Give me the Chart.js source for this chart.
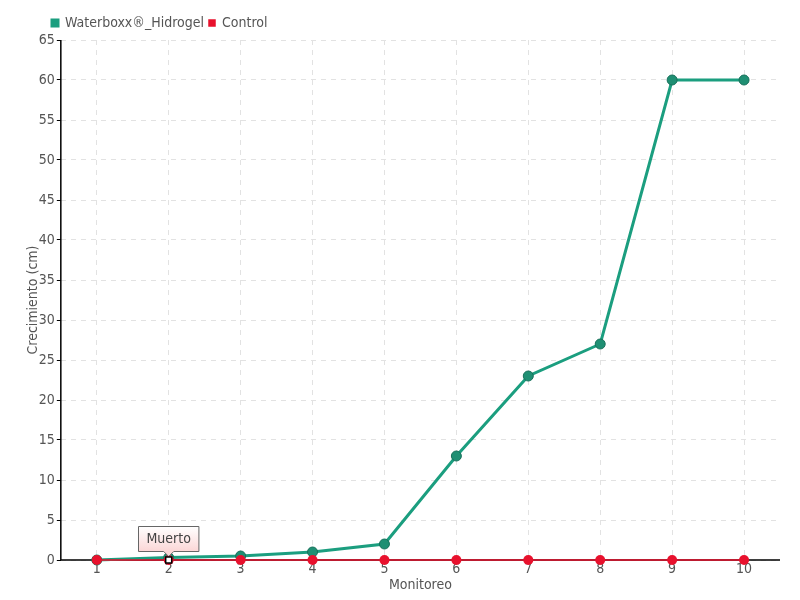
<!DOCTYPE html>
<html>
<head>
<meta charset="utf-8">
<script src="https://cdn.jsdelivr.net/npm/chart.js@4/dist/chart.umd.min.js"></script>
<style>
  html, body { margin: 0; padding: 0; background: #fff; }
  #wrap { width: 800px; height: 600px; }
</style>
</head>
<body>
<div id="wrap"><canvas id="grafico" width="800" height="600"></canvas></div>
<script>
// datos
var monitoreos = ['1', '2', '3', '4', '5', '6', '7', '8', '9', '10'];
var waterboxx = [0, 0.3, 0.5, 1, 2, 13, 23, 27, 60, 60];
var control = [0, 0, 0, 0, 0, 0, 0, 0, 0, 0];
var notasControl = ['', 'Muerto', '', '', '', '', '', '', '', ''];
var yTicks = [0, 5, 10, 15, 20, 25, 30, 35, 40, 45, 50, 55, 60, 65];

var fuente = "'DejaVu Sans Condensed', 'Liberation Sans Narrow', sans-serif";
var gris = '#555';

var notasPlugin = {
    id: 'notas',
    afterLayout: function(chart) {
        // mover la leyenda hacia la derecha (como en el original)
        chart.legend.left += 30;
        chart.legend.right += 30;
    },
    beforeDatasetsDraw: function(chart) {
        // ejes sólidos, debajo de las series
        var a = chart.chartArea, c = chart.ctx;
        c.save();
        c.strokeStyle = '#000';
        c.lineWidth = 1.5;
        c.beginPath();
        c.moveTo(a.left, a.top);
        c.lineTo(a.left, a.bottom);
        c.lineTo(a.right, a.bottom);
        c.stroke();
        c.restore();
    },
    afterDatasetsDraw: function(chart) {
        // etiqueta tipo "tooltip" sobre los puntos con nota
        var ctx = chart.ctx;
        var xs = chart.scales.x, ys = chart.scales.y;
        notasControl.forEach(function(txt, i) {
            if (!txt) return;
            var px = xs.getPixelForValue(i);
            var py = ys.getPixelForValue(control[i]);
            ctx.save();
            ctx.font = '14px ' + fuente;
            var w = ctx.measureText(txt).width + 16;
            var h = 25;
            var bx = Math.round(px - w / 2) + 0.5;
            var by = Math.round(py - 34) + 0.5;
            var g = ctx.createLinearGradient(0, by, 0, by + h);
            g.addColorStop(0, '#ffffff');
            g.addColorStop(1, '#fbd6d6');
            ctx.beginPath();
            ctx.moveTo(bx, by);
            ctx.lineTo(bx + w, by);
            ctx.lineTo(bx + w, by + h);
            ctx.lineTo(px + 5, by + h);
            ctx.lineTo(px, by + h + 5);
            ctx.lineTo(px - 5, by + h);
            ctx.lineTo(bx, by + h);
            ctx.closePath();
            ctx.fillStyle = g;
            ctx.fill();
            ctx.strokeStyle = '#666';
            ctx.lineWidth = 1;
            ctx.stroke();
            ctx.fillStyle = '#444';
            ctx.textAlign = 'center';
            ctx.textBaseline = 'middle';
            ctx.fillText(txt, px, by + h / 2);
            // marcador
            ctx.fillStyle = '#fff';
            ctx.strokeStyle = '#000';
            ctx.lineWidth = 1.5;
            ctx.fillRect(px - 3, py - 3, 6, 6);
            ctx.strokeRect(px - 3, py - 3, 6, 6);
            ctx.restore();
        });
    }
};

var ctx = document.getElementById('grafico').getContext('2d');
new Chart(ctx, {
    type: 'line',
    data: {
        labels: monitoreos,
        datasets: [{
            label: 'Waterboxx®_Hidrogel',
            data: waterboxx,
            borderColor: '#1b9e7f',
            backgroundColor: '#1b9e7f',
            borderWidth: 3,
            pointRadius: 5,
            pointBackgroundColor: '#1f8f73',
            pointBorderColor: '#17705a',
            pointBorderWidth: 1,
            tension: 0,
            clip: 8,
            order: 1
        }, {
            label: 'Control',
            data: control,
            borderColor: '#e8112d',
            backgroundColor: '#e8112d',
            borderWidth: 1.5,
            pointRadius: 5,
            pointBackgroundColor: '#e8112d',
            pointBorderColor: '#e8112d',
            pointBorderWidth: 0,
            tension: 0,
            clip: 8,
            order: 0
        }]
    },
    options: {
        responsive: false,
        animation: false,
        layout: { padding: { left: 17, right: 20, top: 11, bottom: 8 } },
        plugins: {
            legend: {
                position: 'top',
                align: 'start',
                labels: {
                    boxWidth: 6,
                    boxHeight: 6,
                    padding: 5,
                    color: gris,
                    font: { family: fuente, size: 14 },
                    sort: function(a, b) { return a.datasetIndex - b.datasetIndex; }
                }
            },
            tooltip: { enabled: false }
        },
        scales: {
            x: {
                offset: true,
                grid: {
                    offset: false,
                    color: '#e2e2e2',
                    drawTicks: false
                },
                border: { display: false, dash: [5, 5] },
                ticks: {
                    color: gris,
                    padding: 2,
                    font: { family: fuente, size: 14, lineHeight: 1 }
                },
                title: {
                    display: true,
                    text: 'Monitoreo',
                    color: gris,
                    padding: 0,
                    font: { family: fuente, size: 14, lineHeight: 1 }
                }
            },
            y: {
                min: 0,
                max: 65,
                afterBuildTicks: function(axis) {
                    axis.ticks = yTicks.map(function(v) { return { value: v }; });
                },
                grid: {
                    color: '#e2e2e2',
                    tickLength: 4,
                    tickColor: '#000'
                },
                border: { display: false, dash: [5, 5] },
                ticks: {
                    color: gris,
                    padding: 2,
                    font: { family: fuente, size: 14 }
                },
                title: {
                    display: true,
                    text: 'Crecimiento (cm)',
                    color: gris,
                    padding: { top: 8, bottom: -5 },
                    font: { family: fuente, size: 14 }
                }
            }
        }
    },
    plugins: [notasPlugin]
});
</script>
</body>
</html>
